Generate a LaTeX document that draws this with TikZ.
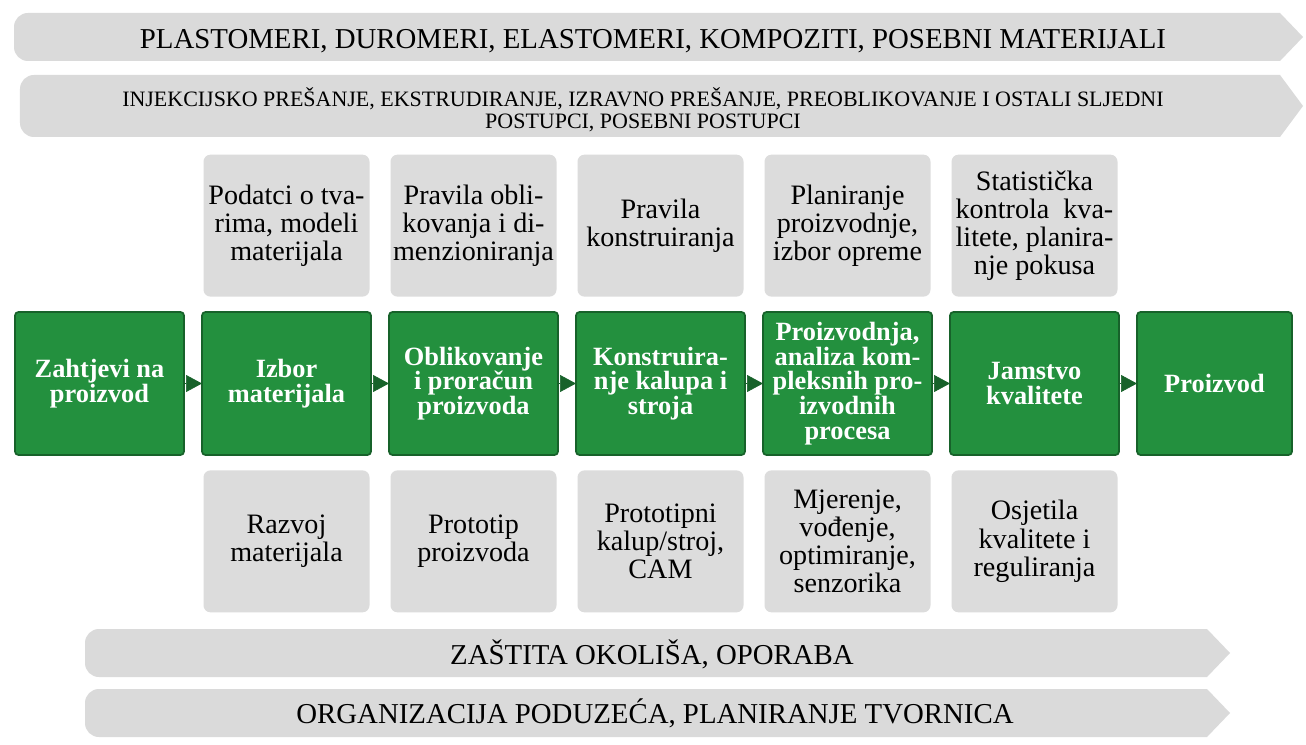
\documentclass[tikz,border=0pt]{standalone}
\usepackage{fontspec}
\setmainfont{Liberation Serif}
\usepackage{tikz}
\usetikzlibrary{positioning,arrows.meta}
\definecolor{procfill}{HTML}{23903E}
\definecolor{procframe}{HTML}{17622A}
\definecolor{infofill}{HTML}{DCDCDC}
\definecolor{bandfill}{HTML}{DADADA}
% grey band: rounded on the left, pointed on the right
\newcommand{\band}[4]{%
  \fill[bandfill] ({#2-.46},#3) -- (#2,{(#3+#4)/2}) -- ({#2-.46},#4)
    -- ({#1+.28},#4) arc[start angle=270, end angle=180, radius=.28]
    -- (#1,{#3-.28}) arc[start angle=180, end angle=90, radius=.28] -- cycle;}

\begin{document}
\begin{tikzpicture}[
  proc/.style={draw=procframe, line width=1pt, fill=procfill, rounded corners=2pt,
               minimum width=3.38cm, minimum height=2.86cm, align=center, text=white,
               inner sep=1pt, outer sep=0pt, font=\fontsize{15}{14}\selectfont\bfseries},
  info/.style={fill=infofill, rounded corners=4pt, minimum width=3.32cm,
               minimum height=2.84cm, align=center, inner sep=1pt,
               font=\fontsize{16}{16}\selectfont},
  bandtext/.style={font=\fontsize{16.4}{18}\selectfont, inner sep=0pt},
  arr/.style={-{Triangle[length=3.2mm, width=3.4mm]}, draw=procframe, line width=0.4pt},
  ]
  \fill[white] (0,0) rectangle (26.12,-14.9);
  \useasboundingbox (0,0) rectangle (26.12,-14.9);

  \band{0.28}{26.06}{-0.26}{-1.22}
  \band{0.40}{26.06}{-1.50}{-2.74}
  \band{1.70}{24.60}{-12.58}{-13.54}
  \band{1.70}{24.60}{-13.78}{-14.74}

  \node[bandtext] (materials) at (13.06,-0.82) {PLASTOMERI, DUROMERI, ELASTOMERI, KOMPOZITI, POSEBNI MATERIJALI};
  \node[bandtext, align=center, font=\fontsize{12.5}{12.6}\selectfont] (processes) at (12.86,-2.2)
    {INJEKCIJSKO PREŠANJE, EKSTRUDIRANJE, IZRAVNO PREŠANJE, PREOBLIKOVANJE I OSTALI SLJEDNI\\ POSTUPCI, POSEBNI POSTUPCI};
  \node[bandtext] (environment) at (13.04,-13.08) {ZAŠTITA OKOLIŠA, OPORABA};
  \node[bandtext] (organisation) at (13.10,-14.27) {ORGANIZACIJA PODUZEĆA, PLANIRANJE TVORNICA};

  \node[proc] (req) at (1.99,-7.67) {Zahtjevi na\\ proizvod};
  \node[proc, right=0.36cm of req] (mat) {Izbor\\ materijala};
  \node[proc, right=0.36cm of mat] (design) {Oblikovanje\\ i proračun\\ proizvoda};
  \node[proc, right=0.36cm of design] (mould) {Konstruira-\\ nje kalupa i\\ stroja};
  \node[proc, right=0.36cm of mould] (prod) {Proizvodnja,\\ analiza kom-\\ pleksnih pro-\\ izvodnih\\ procesa};
  \node[proc, right=0.36cm of prod] (qa) {Jamstvo\\ kvalitete};
  \node[proc, right=0.36cm of qa, minimum width=3.1cm] (out) {Proizvod};

  \node[info, above=0.3cm of mat] (matdata) {Podatci o tva-\\ rima, modeli\\ materijala};
  \node[info, above=0.3cm of design] (shaperules) {Pravila obli-\\ kovanja i di-\\ menzioniranja};
  \node[info, above=0.3cm of mould] (mouldrules) {Pravila\\ konstruiranja};
  \node[info, above=0.3cm of prod] (planning) {Planiranje\\ proizvodnje,\\ izbor opreme};
  \node[info, above=0.3cm of qa] (stats) {Statistička\\ kontrola\ \ kva-\\ litete, planira-\\ nje pokusa};

  \node[info, below=0.3cm of mat] (matdev) {Razvoj\\ materijala};
  \node[info, below=0.3cm of design] (proto) {Prototip\\ proizvoda};
  \node[info, below=0.3cm of mould] (protomould) {Prototipni\\ kalup/stroj,\\ CAM};
  \node[info, below=0.3cm of prod] (measure) {Mjerenje,\\ vođenje,\\ optimiranje,\\ senzorika};
  \node[info, below=0.3cm of qa] (sensors) {Osjetila\\ kvalitete i\\ reguliranja};

  \draw[arr] (req.east) -- (mat.west);
  \draw[arr] (mat.east) -- (design.west);
  \draw[arr] (design.east) -- (mould.west);
  \draw[arr] (mould.east) -- (prod.west);
  \draw[arr] (prod.east) -- (qa.west);
  \draw[arr] (qa.east) -- (out.west);
\end{tikzpicture}
\end{document}
